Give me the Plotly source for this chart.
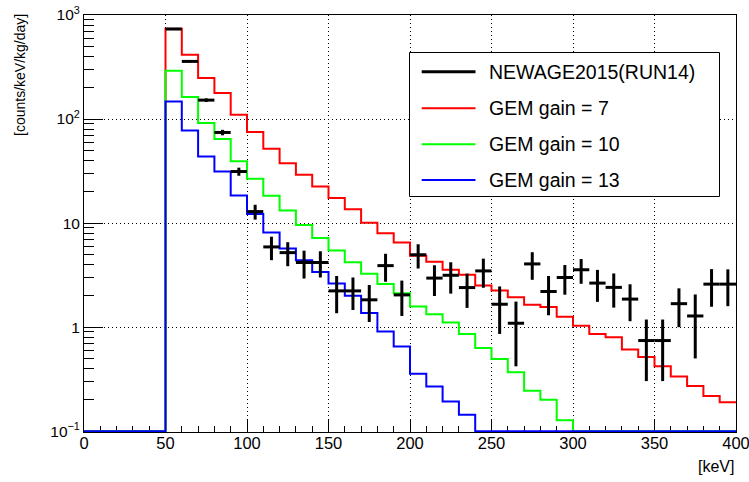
import numpy as np
import plotly.graph_objects as go

# ---- binning (10 keV bins from 0 to 400 keV) ----
bin_edges = list(range(0, 410, 10))
bin_centers = [e + 5 for e in bin_edges[:-1]]

# ---- simulated spectra [counts/keV/kg/day], one value per bin ----
gain7 = [0, 0, 0, 0, 0,
         738, 415, 248, 178, 110, 75, 51.8, 37.5, 29.1, 22.5,
         17.4, 13.6, 10.1, 8.0, 6.5, 4.85, 4.25, 3.56, 3.18, 2.51,
         2.25, 1.94, 1.64, 1.56, 1.26, 1.03, 0.857, 0.80, 0.61, 0.515,
         0.42, 0.335, 0.272, 0.218, 0.19]
gain10 = [0, 0, 0, 0, 0,
          291, 163, 91.6, 64.3, 39.3, 26.7, 18.3, 13.2, 9.6, 7.2,
          5.45, 4.2, 3.25, 2.6, 2.12, 1.58, 1.33, 1.11, 0.86, 0.63,
          0.495, 0.368, 0.245, 0.2, 0.127, 0, 0, 0, 0, 0,
          0, 0, 0, 0, 0]
gain13 = [0, 0, 0, 0, 0,
          147.5, 77.6, 43.6, 31.3, 18.4, 12.2, 8.1, 5.7, 4.4, 3.38,
          2.62, 2.0, 1.37, 0.91, 0.65, 0.356, 0.268, 0.193, 0.1435, 0,
          0, 0, 0, 0, 0, 0, 0, 0, 0, 0,
          0, 0, 0, 0, 0]

# ---- measured spectrum (bins from 50 keV) ----
data_centers = bin_centers[5:]
data_values = [733, 358, 152, 74.3, 31.3, 12.9, 5.9, 5.2, 4.18, 4.18,
               2.23, 2.23, 1.83, 3.9, 2.04, 4.96, 2.96, 3.15, 2.4, 3.47,
               1.66, 1.09, 4.05, 2.2, 3.0, 3.56, 2.65, 2.41, 1.86, 0.743,
               0.743, 1.68, 1.28, 2.59, 2.59]
data_errors = [10, 8, 6, 4.5, 2.8, 2.1, 1.5, 1.35, 1.25, 1.18,
               0.87, 0.77, 0.71, 1.17, 0.76, 1.3, 0.97, 1.05, 0.87, 1.08,
               0.8, 0.67, 1.2, 0.9, 0.95, 0.95, 0.9, 0.87, 0.72, 0.44,
               0.44, 0.68, 0.78, 1.02, 1.0]

series_names = ["NEWAGE2015(RUN14)", "GEM gain = 7", "GEM gain = 10", "GEM gain = 13"]
series_colors = ["#000000", "#ff0000", "#00ff00", "#0000ff"]

x_ticks = list(range(0, 401, 50))
x_ticklabels = [str(v) for v in x_ticks]
y_ticks = [0.1, 1, 10, 100, 1000]
y_ticklabels = ["10<sup>\u22121</sup>", "1", "10", "10<sup>2</sup>", "10<sup>3</sup>"]

Y_FLOOR = 0.1
FONT = "Liberation Sans, Arial, Helvetica, sans-serif"


def step_xy(values):
    """Bin contents -> points for an 'hv' step line; empty bins sit on the floor."""
    y = np.clip(np.asarray(values, dtype=float), Y_FLOOR, None)
    return bin_edges, list(y) + [y[-1]]


fig = go.Figure()

for vals, name, color in zip([gain7, gain10, gain13], series_names[1:], series_colors[1:]):
    xs, ys = step_xy(vals)
    fig.add_trace(go.Scatter(x=xs, y=ys, mode="lines", line=dict(color=color, width=2, shape="hv"),
                             name=name, showlegend=False))

# data points as crosses: bin-width bar + vertical error bar
half_bin = 5
cx, cy = [], []
for c, v, e in zip(data_centers, data_values, data_errors):
    cx += [c - half_bin, c + half_bin, None, c, c, None]
    cy += [v, v, None, v - e, v + e, None]
fig.add_trace(go.Scatter(x=cx, y=cy, mode="lines", line=dict(color="black", width=3),
                         connectgaps=False, name=series_names[0], showlegend=False))

# ---- legend box drawn in paper coordinates ----
W, H = 749, 482
ML, MR, MT, MB = 84, 13, 15, 50
PW, PH = W - ML - MR, H - MT - MB


def px(xp):
    return (xp - ML) / PW


def py(yp):
    return (H - MB - yp) / PH


shapes = [dict(type="rect", xref="paper", yref="paper", x0=px(409.5), x1=px(719.5),
               y0=py(196.5), y1=py(52.5), fillcolor="white", line=dict(color="black", width=1),
               layer="above")]
annotations = []
row_y = [71.7, 108.3, 144.3, 180.0]
for name, color, ry, lw in zip(series_names, series_colors, row_y, [3, 2, 2, 2]):
    shapes.append(dict(type="line", xref="paper", yref="paper", x0=px(421.7), x1=px(475.5),
                       y0=py(ry), y1=py(ry), line=dict(color=color, width=lw), layer="above"))
    annotations.append(dict(text=name, xref="paper", yref="paper", x=px(487), y=py(ry),
                            xanchor="left", yanchor="middle", showarrow=False,
                            font=dict(family=FONT, size=19.5, color="black")))

# axis titles placed at the axis ends
annotations.append(dict(text="[counts/keV/kg/day]", xref="paper", yref="paper", x=px(20), y=py(75),
                        textangle=-90, xanchor="center", yanchor="middle", showarrow=False,
                        font=dict(family=FONT, size=14, color="black")))
annotations.append(dict(text="[keV]", xref="paper", yref="paper", x=1.0, y=py(466.5),
                        xanchor="right", yanchor="middle", showarrow=False,
                        font=dict(family=FONT, size=16, color="black")))

x_minor = [v for v in range(0, 401, 10) if v % 50 != 0]
y_minor = [k * 10.0 ** p for p in range(-1, 3) for k in range(2, 10)]

grid_dash = "1px,3px"
fig.update_layout(
    width=W, height=H,
    margin=dict(l=ML, r=MR, t=MT, b=MB, pad=0, autoexpand=False),
    paper_bgcolor="white", plot_bgcolor="white",
    font=dict(family=FONT, color="black"),
    shapes=shapes, annotations=annotations,
    showlegend=False,
    xaxis=dict(range=[0, 400], tickmode="array", tickvals=x_ticks, ticktext=x_ticklabels,
               ticks="inside", ticklen=12, tickwidth=1, tickcolor="black",
               tickfont=dict(size=16.5, family=FONT, color="black"),
               ticklabeloverflow="allow", automargin=False, ticklabelstandoff=-4,
               showline=True, linecolor="black", linewidth=1, mirror=True,
               showgrid=True, gridcolor="black", gridwidth=1, griddash=grid_dash,
               zeroline=False, layer="below traces",
               minor=dict(tickmode="array", tickvals=x_minor, ticks="inside", ticklen=6,
                          tickwidth=1, tickcolor="black", showgrid=False)),
    yaxis=dict(type="log", range=[-1.008, 3], tickmode="array", tickvals=y_ticks, ticktext=y_ticklabels,
               ticks="inside", ticklen=19, tickwidth=1, tickcolor="black",
               tickfont=dict(size=15.5, family=FONT, color="black"),
               ticklabeloverflow="allow", automargin=False,
               showline=True, linecolor="black", linewidth=1, mirror=True,
               showgrid=True, gridcolor="black", gridwidth=1, griddash=grid_dash,
               zeroline=False, layer="below traces",
               minor=dict(tickmode="array", tickvals=y_minor, ticks="inside", ticklen=10,
                          tickwidth=1, tickcolor="black", showgrid=False)),
)

fig.write_html("out.html")
